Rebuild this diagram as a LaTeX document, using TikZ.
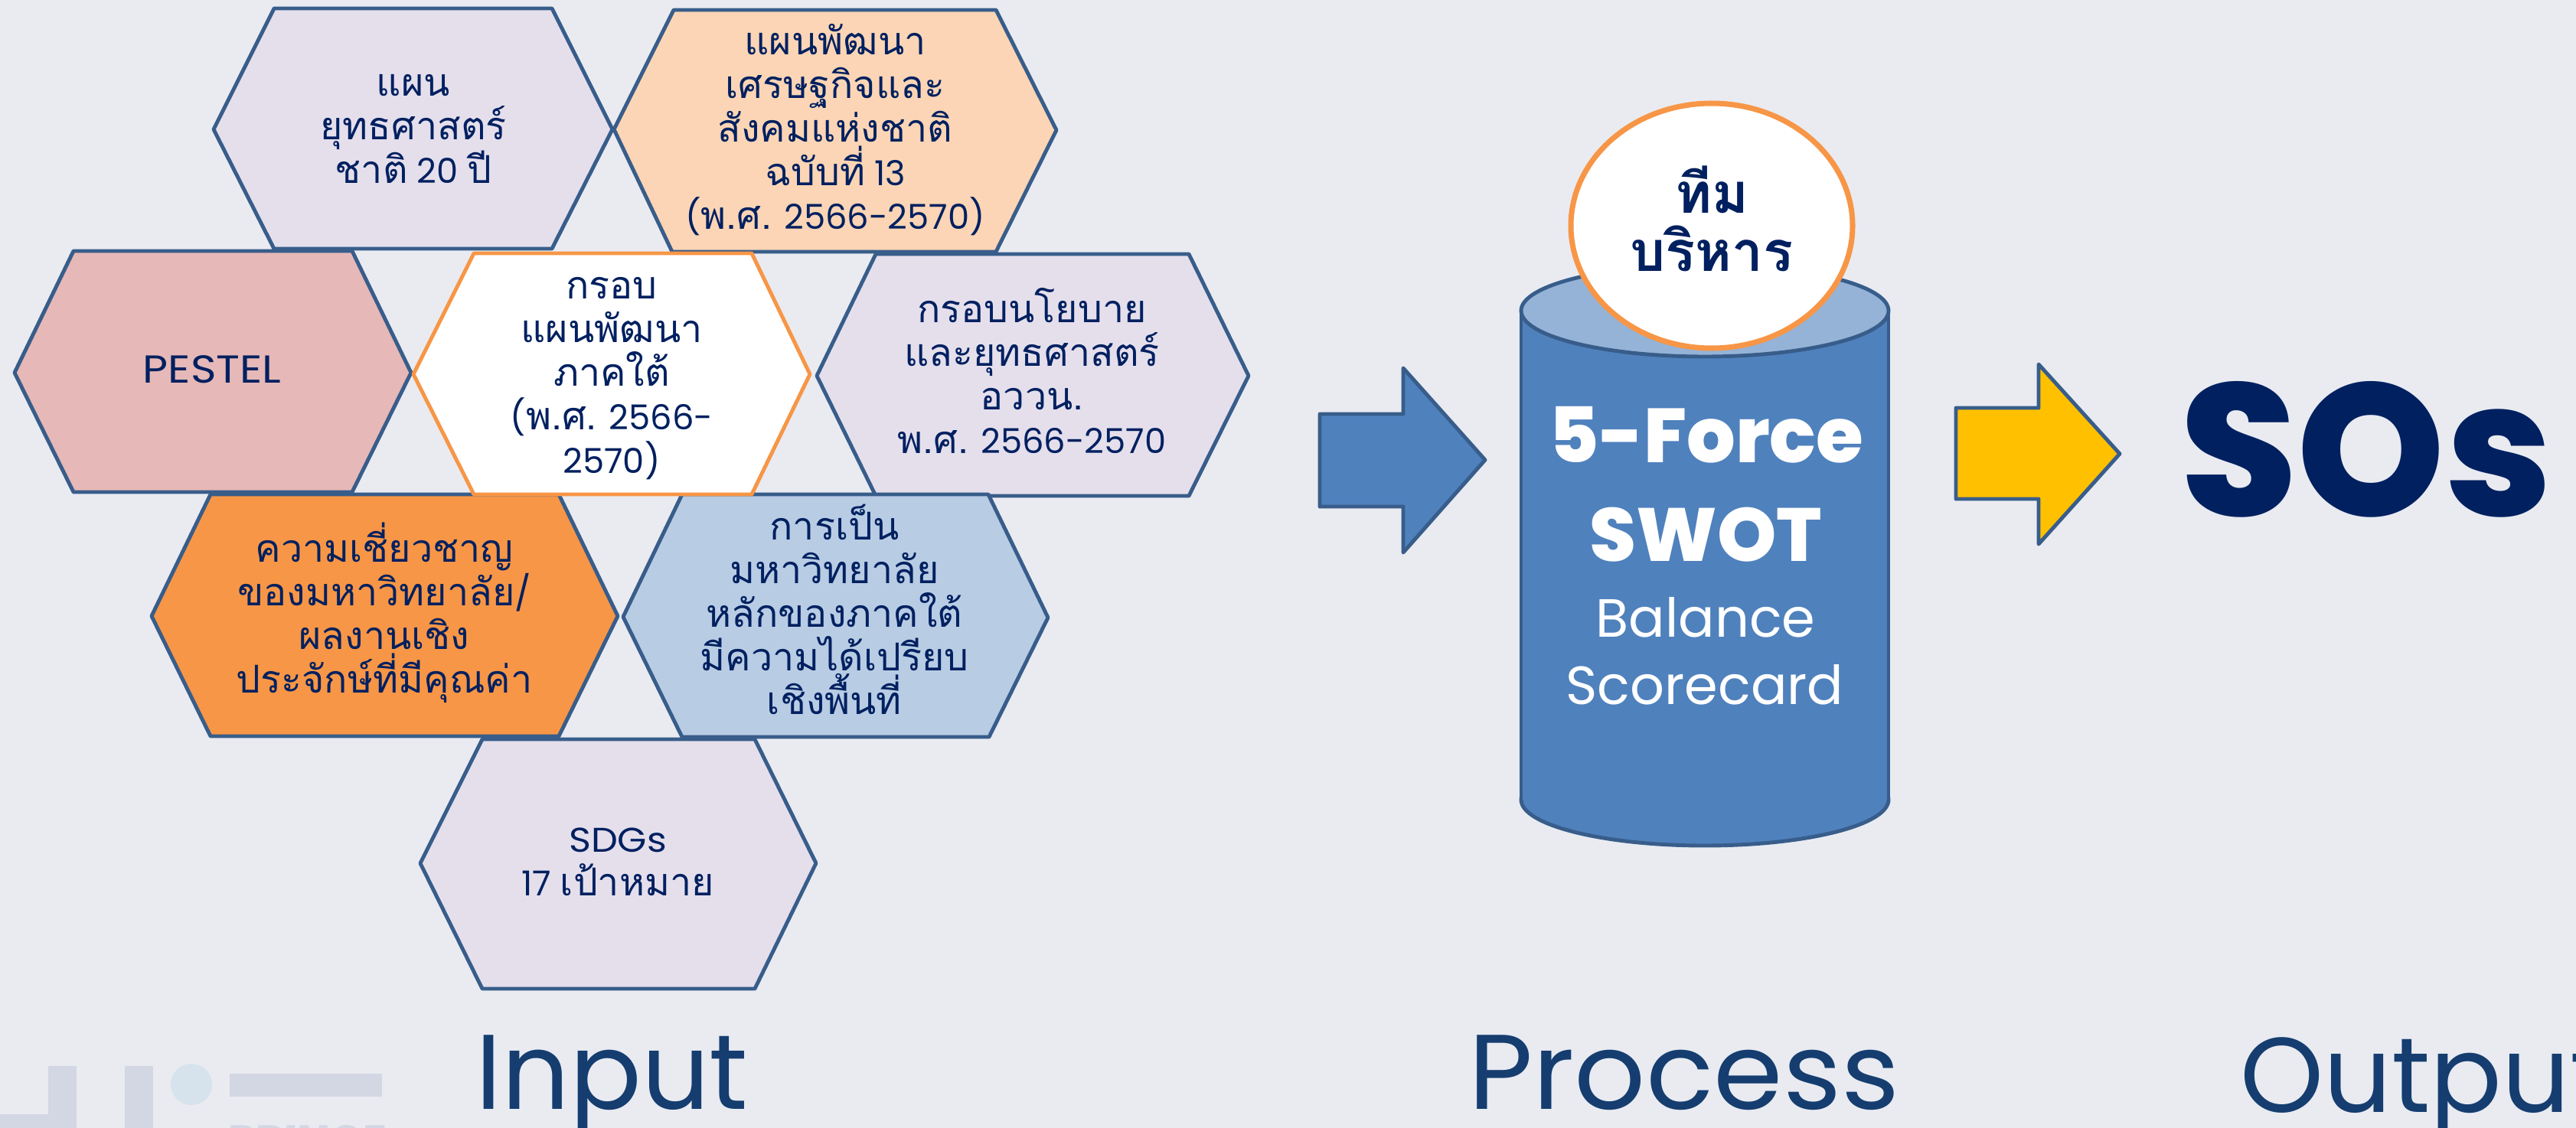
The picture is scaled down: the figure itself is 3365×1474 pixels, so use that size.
\documentclass[tikz,border=0pt]{standalone}
\usepackage{fontspec}
\usepackage{xcolor}
\usetikzlibrary{shapes,arrows,positioning}
\setmainfont{Poppins}[BoldFont=* ExtraBold]
\newfontfamily\regfont{Poppins}
\newfontfamily\thw[Script=Thai,Scale=1.12]{Loma}

\definecolor{bgcol}{HTML}{E9EBF1}
\definecolor{edgecol}{HTML}{385D8A}
\definecolor{navycol}{HTML}{002060}
\definecolor{labelcol}{HTML}{153D6F}
\definecolor{lilaccol}{HTML}{E5DFEC}
\definecolor{peachcol}{HTML}{FBD5B5}
\definecolor{rosecol}{HTML}{E6B8B7}
\definecolor{orangecol}{HTML}{F79646}
\definecolor{paleblue}{HTML}{B8CCE4}
\definecolor{drumcol}{HTML}{4F81BD}
\definecolor{drumtop}{HTML}{95B3D7}
\definecolor{goldcol}{HTML}{FFC000}
\definecolor{logocol}{HTML}{D3D7E3}
\definecolor{logodot}{HTML}{D7E3EC}

\tikzset{
    hexbox/.style={draw=edgecol,line width=2.8pt,line join=round},
    hextext/.style={text=navycol,align=center,anchor=base,font=\fontsize{25.5}{32.4}\selectfont},
    drumtext/.style={text=white,anchor=base},
    biglabel/.style={text=labelcol,anchor=base west,font=\regfont\fontsize{79}{90}\selectfont},
    logobar/.style={fill=logocol,draw=none}
}

\begin{document}
\begin{tikzpicture}[x=0.02cm,y=-0.02cm]
    \useasboundingbox (0,0) rectangle (3365,1474);
    \fill[bgcol] (0,0) rectangle (3365,1474);

    \fill[logobar] (63,1393)  rectangle (100,1474);
    \fill[logobar] (0,1456)   rectangle (100,1474);
    \fill[logobar] (163,1393) rectangle (200,1474);
    \fill[logodot] (250,1417) circle (27);
    \fill[logobar] (300,1403) rectangle (499,1433);
    \node (logoname) [text=logocol,anchor=base west,inner sep=0pt,font=\bfseries\fontsize{32}{36}\selectfont] at (298,1510) {PRINCE};

    \filldraw[hexbox,fill=lilaccol]  (279,169) -- (358,11)  -- (721,11)  -- (800,169)  -- (721,325)  -- (358,325)  -- cycle;
    \filldraw[hexbox,fill=peachcol]  (802,169) -- (880,13)  -- (1301,13) -- (1380,170) -- (1301,329) -- (878,329)  -- cycle;
    \filldraw[hexbox,fill=rosecol]   (19,487)  -- (96,328)  -- (460,328) -- (537,487)  -- (460,643)  -- (96,643)   -- cycle;
    \filldraw[hexbox,fill=lilaccol]  (1067,491) -- (1144,332) -- (1553,332) -- (1631,491) -- (1553,648) -- (1144,648) -- cycle;
    \filldraw[hexbox,fill=orangecol] (198,805) -- (275,646) -- (730,646) -- (807,805)  -- (730,962)  -- (275,962)  -- cycle;
    \filldraw[hexbox,fill=paleblue]  (814,806) -- (891,646) -- (1291,646) -- (1369,807) -- (1292,963) -- (891,963)  -- cycle;
    \filldraw[hexbox,fill=lilaccol]  (549,1128) -- (630,966) -- (986,966) -- (1066,1128) -- (986,1292) -- (630,1292) -- cycle;
    \filldraw[hexbox,draw=orangecol,fill=white] (540,489) -- (619,331) -- (982,331) -- (1058,489) -- (982,646) -- (619,646) -- cycle;

    \node (natplan)  [hextext] at (540,239)  {{\thw แผน}\\{\thw ยุทธศาสตร์}\\{\thw ชาติ} 20 {\thw ปี}};
    \node (ecoplan)  [hextext] at (1091,299) {{\thw แผนพัฒนา}\\{\thw เศรษฐกิจและ}\\{\thw สังคมแห่งชาติ}\\{\thw ฉบับที่} 13\\({\thw พ.ศ.} 2566-2570)};
    \node (pestel)   [hextext,font=\fontsize{29}{32.4}\selectfont] at (277,500) {\addfontfeature{FakeStretch=1.12}PESTEL};
    \node (south)    [hextext] at (799,618)  {{\thw กรอบ}\\{\thw แผนพัฒนา}\\{\thw ภาคใต้}\\({\thw พ.ศ.} 2566-\\2570)};
    \node (policy)   [hextext] at (1348,592) {{\thw กรอบนโยบาย}\\{\thw และยุทธศาสตร์}\\{\thw อววน.}\\{\thw พ.ศ.} 2566-2570};
    \node (expert)   [hextext] at (502,905)  {{\thw ความเชี่ยวชาญ}\\{\thw ของมหาวิทยาลัย}/\\{\thw ผลงานเชิง}\\{\thw ประจักษ์ที่มีคุณค่า}};
    \node (region)   [hextext] at (1090,933) {{\thw การเป็น}\\{\thw มหาวิทยาลัย}\\{\thw หลักของภาคใต้}\\{\thw มีความได้เปรียบ}\\{\thw เชิงพื้นที่}};
    \node (sdgs)     [hextext] at (807,1170) {{\addfontfeature{FakeStretch=1.1}SDGs}\\17 {\thw เป้าหมาย}};

    \filldraw[hexbox,fill=drumcol] (1724,541) -- (1833,541) -- (1833,481) -- (1940,601) -- (1833,722) -- (1833,662) -- (1724,662) -- cycle;
    \filldraw[hexbox,fill=goldcol] (2555,533) -- (2663,533) -- (2663,476) -- (2769,593) -- (2663,711) -- (2663,652) -- (2555,652) -- cycle;

    \filldraw[hexbox,fill=drumcol] (2227,1045) ellipse (240 and 60);
    \fill[drumcol] (1987,406) rectangle (2467,1045);
    \draw[hexbox] (1987,406) -- (1987,1045);
    \draw[hexbox] (2467,406) -- (2467,1045);
    \filldraw[hexbox,fill=drumtop] (2227,406) ellipse (240 and 60);
    \filldraw[draw=orangecol,line width=4pt,fill=white] (2236,295) ellipse (184 and 160);

    \node (team1)   [text=navycol,anchor=base,font=\bfseries\fontsize{37}{50}\selectfont] at (2236,278) {{\thw\bfseries ทีม}};
    \node (team2)   [text=navycol,anchor=base,font=\bfseries\fontsize{37}{50}\selectfont] at (2236,354) {{\thw\bfseries บริหาร}};
    \node (force)   [drumtext,font=\bfseries\fontsize{57}{60}\selectfont] at (2229,604) {5-Force};
    \node (swot)    [drumtext,font=\bfseries\fontsize{56}{60}\selectfont] at (2228,733) {SWOT};
    \node (balance) [drumtext,font=\regfont\fontsize{40}{48}\selectfont] at (2228,832) {Balance};
    \node (score)   [drumtext,font=\regfont\fontsize{40}{48}\selectfont] at (2227,920) {Scorecard};

    \node (sos) [text=navycol,anchor=base,font=\bfseries\fontsize{140}{150}\selectfont] at (3091,674) {SOs};

    \node (input)   [biglabel] at (615,1449)  {Input};
    \node (process) [biglabel] at (1912,1449) {\addfontfeature{FakeStretch=1.05}Process};
    \node (output)  [biglabel] at (2920,1453) {Output};
\end{tikzpicture}
\end{document}
